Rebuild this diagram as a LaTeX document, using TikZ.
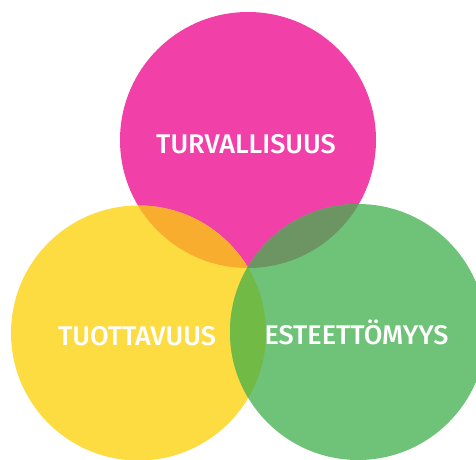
\documentclass[tikz,border=0pt]{standalone}
\usepackage{fontspec}
\newfontfamily\venfont{Fira Sans}[UprightFont={* Medium}]
\usepackage{tikz}
\definecolor{vpink}{HTML}{F140A8}
\definecolor{vyellow}{HTML}{FDDC41}
\definecolor{vgreen}{HTML}{6FC378}
\definecolor{vorange}{HTML}{F8AD2F}
\definecolor{vmoss}{HTML}{6C9563}
\definecolor{vlime}{HTML}{72BA46}
\tikzset{
  ring/.style={circle, inner sep=0pt, minimum size=256pt},
  lbl/.style={text=white, anchor=base, inner sep=0pt, font=\venfont\fontsize{27}{27}\selectfont},
}
\begin{document}
\begin{tikzpicture}[x=1pt,y=1pt]
  \useasboundingbox (0,0) rectangle (476,459);
  \clip (0,0) rectangle (476,459);
  \node[ring, fill=vpink] (turv) at (248,319) {};
  \node[ring, fill=vyellow, minimum size=255pt] (tuot) at (138.5,126) {};
  \node[ring, fill=vgreen] (este) at (358,127) {};
  % overlaps
  \begin{scope}
    \clip (turv.center) circle (128);
    \fill[vorange] (tuot.center) circle (127.5);
    \fill[vmoss] (este.center) circle (128);
  \end{scope}
  \begin{scope}
    \clip (tuot.center) circle (127.5);
    \fill[vlime] (este.center) circle (128);
  \end{scope}
  % labels
  \node[lbl] (turvtxt) at (246,305.7) {TURVALLISUUS};
  \node[lbl] (tuottxt) at (137,114) {TUOTTAVUUS};
  \node[lbl] (estetxt) at (356.5,115) {ESTEETTÖMYYS};
\end{tikzpicture}
\end{document}
